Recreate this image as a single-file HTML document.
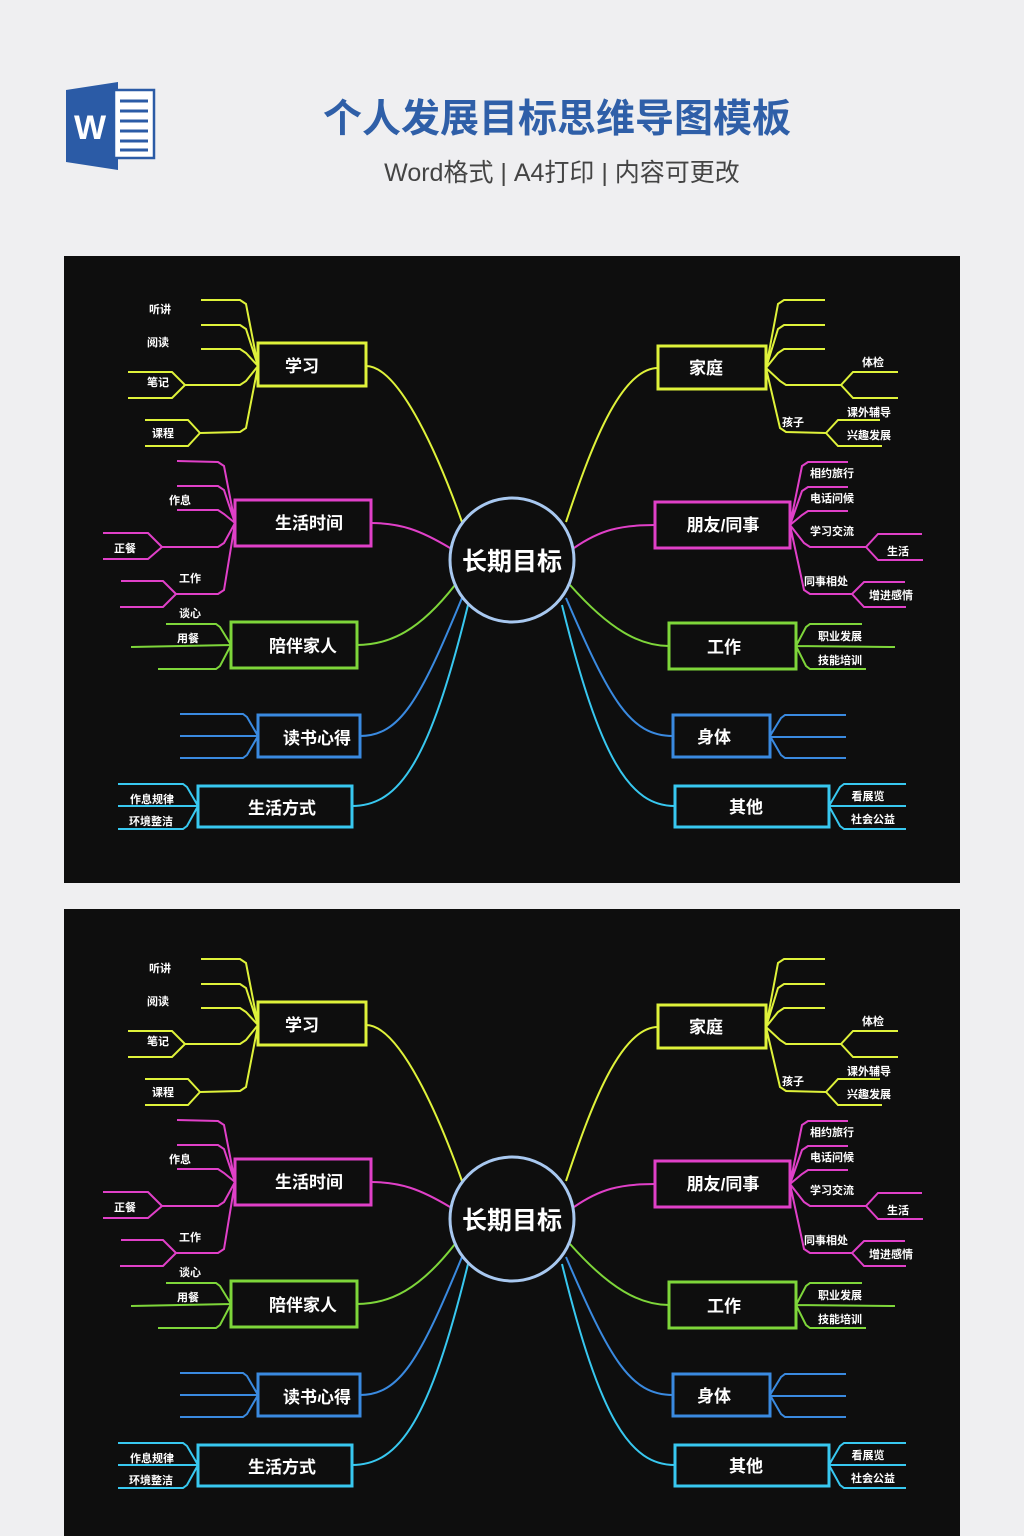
<!DOCTYPE html>
<html><head><meta charset="utf-8"><style>
body{margin:0;width:1024px;height:1536px;background:#efeff1;overflow:hidden;font-family:"Liberation Sans","Noto Sans CJK SC",sans-serif}
svg{position:absolute;left:0;top:0}
</style></head><body>
<svg width="1024" height="1536" viewBox="0 0 1024 1536" xmlns="http://www.w3.org/2000/svg" font-family="Liberation Sans, Noto Sans CJK SC, sans-serif">
<!-- header -->
<polygon points="66,90 118,82 118,170 66,162" fill="#2b5ba6"/>
<rect x="114" y="90" width="40" height="68" fill="#fff" stroke="#2b5ba6" stroke-width="2.5"/>
<g stroke="#2b5ba6" stroke-width="3"><line x1="120" y1="101" x2="148" y2="101"/><line x1="120" y1="111" x2="148" y2="111"/><line x1="120" y1="121" x2="148" y2="121"/><line x1="120" y1="131" x2="148" y2="131"/><line x1="120" y1="141" x2="148" y2="141"/><line x1="120" y1="150" x2="148" y2="150"/></g>
<text x="90" y="139" font-size="34" font-weight="bold" fill="#fff" text-anchor="middle">W</text>
<text x="557" y="132" font-size="39" font-weight="bold" fill="#2f5fa8" text-anchor="middle" font-family="Liberation Sans, Noto Sans CJK SC, sans-serif">个人发展目标思维导图模板</text>
<text x="562" y="181" font-size="25" fill="#444" text-anchor="middle">Word格式 | A4打印 | 内容可更改</text>

<rect x="64" y="256" width="896" height="627" fill="#0e0e0e"/>
<rect x="64" y="909" width="896" height="627" fill="#0e0e0e"/>

<g id="p1">
<g fill="none" stroke-width="2">
<!-- yellow -->
<g stroke="#dff23a">
<path d="M462,522 C440,460 400,366 366,366"/>
<path d="M566,522 C590,450 620,368 658,368"/>
<path d="M258,366 L246,304 L240,300 L201,300 M258,366 L246,329 L240,325 L201,325 M258,366 L246,353 L240,349 L201,349 M258,366 L246,381 L240,385 L185,385 M185,385 L172,372 L128,372 M185,385 L172,398 L128,398 M258,366 L246,428 L240,432 L200,433 M200,433 L188,420 L145,420 M200,433 L188,446 L145,446"/>
<path d="M766,368 L778,304 L784,300 L825,300 M766,368 L778,329 L784,325 L825,325 M766,368 L778,353 L784,349 L825,349 M766,368 L780,381 L786,385 L841,385 M841,385 L853,372 L898,372 M841,385 L853,398 L898,398 M766,368 L780,428 L786,432 L826,433 M826,433 L838,420 L880,420 M826,433 L838,446 L882,446"/>
</g>
<!-- magenta -->
<g stroke="#e040c8">
<path d="M450,548 C420,530 400,523 371,523"/>
<path d="M574,548 C600,530 620,525 655,525"/>
<path d="M235,523 L224,466 L218,462 L177,461 M235,523 L224,490 L218,486 L177,486 M235,523 L224,514 L218,510 L177,510 M235,523 L224,543 L218,547 L162,547 M162,547 L148,533 L103,533 M162,547 L148,559 L103,559 M235,523 L224,590 L218,594 L176,594 M176,594 L163,581 L121,581 M176,594 L163,607 L120,607"/>
<path d="M790,525 L802,466 L808,462 L848,462 M790,525 L802,491 L808,487 L848,487 M790,525 L802,515 L808,511 L848,511 M790,525 L804,543 L810,547 L866,547 M866,547 L878,534 L922,534 M866,547 L878,560 L923,560 M790,525 L804,590 L810,594 L852,594 M852,594 L864,582 L905,582 M852,594 L864,607 L906,607"/>
</g>
<!-- green -->
<g stroke="#7ed63a">
<path d="M455,585 C420,630 390,645 357,645"/>
<path d="M570,585 C610,630 640,646 669,646"/>
<path d="M231,645 L220,627 L216,624 L166,624 M231,645 L131,647 M231,645 L220,666 L216,669 L158,669"/>
<path d="M796,646 L806,627 L810,624 L862,624 M796,646 L895,647 M796,646 L806,666 L810,669 L866,669"/>
</g>
<!-- blue -->
<g stroke="#3a8ae0">
<path d="M462,598 C420,700 400,736 360,736"/>
<path d="M566,598 C610,700 630,736 673,736"/>
<path d="M258,736 L247,717 L243,714 L180,714 M258,736 L180,736 M258,736 L247,755 L243,758 L180,758"/>
<path d="M770,736 L781,718 L785,715 L846,715 M770,737 L846,737 M770,736 L781,755 L785,758 L846,758"/>
</g>
<!-- cyan -->
<g stroke="#38c8f0">
<path d="M468,605 C430,760 400,806 352,806"/>
<path d="M562,605 C600,760 630,806 675,806"/>
<path d="M198,806 L187,787 L183,784 L118,784 M198,806 L118,806 M198,806 L187,826 L183,829 L118,829"/>
<path d="M829,806 L840,787 L844,784 L906,784 M829,806 L906,806 M829,806 L840,826 L844,829 L906,829"/>
</g>
</g>
<g fill="#0e0e0e" stroke-width="3">
<rect x="258" y="343" width="108" height="43" stroke="#dff23a"/>
<rect x="658" y="346" width="108" height="43" stroke="#dff23a"/>
<rect x="235" y="500" width="136" height="46" stroke="#e040c8"/>
<rect x="655" y="502" width="135" height="46" stroke="#e040c8"/>
<rect x="231" y="622" width="126" height="46" stroke="#7ed63a"/>
<rect x="669" y="623" width="127" height="46" stroke="#7ed63a"/>
<rect x="258" y="715" width="102" height="42" stroke="#3a8ae0"/>
<rect x="673" y="715" width="97" height="42" stroke="#3a8ae0"/>
<rect x="198" y="786" width="154" height="41" stroke="#38c8f0"/>
<rect x="675" y="786" width="154" height="41" stroke="#38c8f0"/>
<circle cx="512" cy="560" r="62" stroke="#a8c8f0"/>
</g>
<g fill="#fff" font-weight="bold" text-anchor="middle">
<text x="512" y="570" font-size="25">长期目标</text>
<g font-size="17">
<text x="302" y="372">学习</text><text x="706" y="374">家庭</text>
<text x="309" y="529">生活时间</text><text x="723" y="531">朋友/同事</text>
<text x="303" y="652">陪伴家人</text><text x="724" y="653">工作</text>
<text x="317" y="744">读书心得</text><text x="714" y="743">身体</text>
<text x="282" y="814">生活方式</text><text x="746" y="813">其他</text>
</g>
<g font-size="11">
<text x="160" y="313">听讲</text><text x="158" y="346">阅读</text><text x="158" y="386">笔记</text><text x="163" y="437">课程</text>
<text x="180" y="504">作息</text><text x="125" y="552">正餐</text><text x="190" y="582">工作</text><text x="190" y="617">谈心</text><text x="188" y="642">用餐</text>
<text x="152" y="803">作息规律</text><text x="151" y="825">环境整洁</text>
<text x="873" y="366">体检</text><text x="793" y="426">孩子</text><text x="869" y="416">课外辅导</text><text x="869" y="439">兴趣发展</text>
<text x="832" y="477">相约旅行</text><text x="832" y="502">电话问候</text><text x="832" y="535">学习交流</text><text x="898" y="555">生活</text><text x="826" y="585">同事相处</text><text x="891" y="599">增进感情</text>
<text x="840" y="640">职业发展</text><text x="840" y="664">技能培训</text>
<text x="868" y="800">看展览</text><text x="873" y="823">社会公益</text>
</g>
</g>
</g>

<g transform="translate(0,659)">
<g fill="none" stroke-width="2">
<g stroke="#dff23a">
<path d="M462,522 C440,460 400,366 366,366"/>
<path d="M566,522 C590,450 620,368 658,368"/>
<path d="M258,366 L246,304 L240,300 L201,300 M258,366 L246,329 L240,325 L201,325 M258,366 L246,353 L240,349 L201,349 M258,366 L246,381 L240,385 L185,385 M185,385 L172,372 L128,372 M185,385 L172,398 L128,398 M258,366 L246,428 L240,432 L200,433 M200,433 L188,420 L145,420 M200,433 L188,446 L145,446"/>
<path d="M766,368 L778,304 L784,300 L825,300 M766,368 L778,329 L784,325 L825,325 M766,368 L778,353 L784,349 L825,349 M766,368 L780,381 L786,385 L841,385 M841,385 L853,372 L898,372 M841,385 L853,398 L898,398 M766,368 L780,428 L786,432 L826,433 M826,433 L838,420 L880,420 M826,433 L838,446 L882,446"/>
</g>
<g stroke="#e040c8">
<path d="M450,548 C420,530 400,523 371,523"/>
<path d="M574,548 C600,530 620,525 655,525"/>
<path d="M235,523 L224,466 L218,462 L177,461 M235,523 L224,490 L218,486 L177,486 M235,523 L224,514 L218,510 L177,510 M235,523 L224,543 L218,547 L162,547 M162,547 L148,533 L103,533 M162,547 L148,559 L103,559 M235,523 L224,590 L218,594 L176,594 M176,594 L163,581 L121,581 M176,594 L163,607 L120,607"/>
<path d="M790,525 L802,466 L808,462 L848,462 M790,525 L802,491 L808,487 L848,487 M790,525 L802,515 L808,511 L848,511 M790,525 L804,543 L810,547 L866,547 M866,547 L878,534 L922,534 M866,547 L878,560 L923,560 M790,525 L804,590 L810,594 L852,594 M852,594 L864,582 L905,582 M852,594 L864,607 L906,607"/>
</g>
<g stroke="#7ed63a">
<path d="M455,585 C420,630 390,645 357,645"/>
<path d="M570,585 C610,630 640,646 669,646"/>
<path d="M231,645 L220,627 L216,624 L166,624 M231,645 L131,647 M231,645 L220,666 L216,669 L158,669"/>
<path d="M796,646 L806,627 L810,624 L862,624 M796,646 L895,647 M796,646 L806,666 L810,669 L866,669"/>
</g>
<g stroke="#3a8ae0">
<path d="M462,598 C420,700 400,736 360,736"/>
<path d="M566,598 C610,700 630,736 673,736"/>
<path d="M258,736 L247,717 L243,714 L180,714 M258,736 L180,736 M258,736 L247,755 L243,758 L180,758"/>
<path d="M770,736 L781,718 L785,715 L846,715 M770,737 L846,737 M770,736 L781,755 L785,758 L846,758"/>
</g>
<g stroke="#38c8f0">
<path d="M468,605 C430,760 400,806 352,806"/>
<path d="M562,605 C600,760 630,806 675,806"/>
<path d="M198,806 L187,787 L183,784 L118,784 M198,806 L118,806 M198,806 L187,826 L183,829 L118,829"/>
<path d="M829,806 L840,787 L844,784 L906,784 M829,806 L906,806 M829,806 L840,826 L844,829 L906,829"/>
</g>
</g>
<g fill="#0e0e0e" stroke-width="3">
<rect x="258" y="343" width="108" height="43" stroke="#dff23a"/>
<rect x="658" y="346" width="108" height="43" stroke="#dff23a"/>
<rect x="235" y="500" width="136" height="46" stroke="#e040c8"/>
<rect x="655" y="502" width="135" height="46" stroke="#e040c8"/>
<rect x="231" y="622" width="126" height="46" stroke="#7ed63a"/>
<rect x="669" y="623" width="127" height="46" stroke="#7ed63a"/>
<rect x="258" y="715" width="102" height="42" stroke="#3a8ae0"/>
<rect x="673" y="715" width="97" height="42" stroke="#3a8ae0"/>
<rect x="198" y="786" width="154" height="41" stroke="#38c8f0"/>
<rect x="675" y="786" width="154" height="41" stroke="#38c8f0"/>
<circle cx="512" cy="560" r="62" stroke="#a8c8f0"/>
</g>
<g fill="#fff" font-weight="bold" text-anchor="middle">
<text x="512" y="570" font-size="25">长期目标</text>
<g font-size="17">
<text x="302" y="372">学习</text><text x="706" y="374">家庭</text>
<text x="309" y="529">生活时间</text><text x="723" y="531">朋友/同事</text>
<text x="303" y="652">陪伴家人</text><text x="724" y="653">工作</text>
<text x="317" y="744">读书心得</text><text x="714" y="743">身体</text>
<text x="282" y="814">生活方式</text><text x="746" y="813">其他</text>
</g>
<g font-size="11">
<text x="160" y="313">听讲</text><text x="158" y="346">阅读</text><text x="158" y="386">笔记</text><text x="163" y="437">课程</text>
<text x="180" y="504">作息</text><text x="125" y="552">正餐</text><text x="190" y="582">工作</text><text x="190" y="617">谈心</text><text x="188" y="642">用餐</text>
<text x="152" y="803">作息规律</text><text x="151" y="825">环境整洁</text>
<text x="873" y="366">体检</text><text x="793" y="426">孩子</text><text x="869" y="416">课外辅导</text><text x="869" y="439">兴趣发展</text>
<text x="832" y="477">相约旅行</text><text x="832" y="502">电话问候</text><text x="832" y="535">学习交流</text><text x="898" y="555">生活</text><text x="826" y="585">同事相处</text><text x="891" y="599">增进感情</text>
<text x="840" y="640">职业发展</text><text x="840" y="664">技能培训</text>
<text x="868" y="800">看展览</text><text x="873" y="823">社会公益</text>
</g>
</g>
</g>
</svg>
</body></html>
